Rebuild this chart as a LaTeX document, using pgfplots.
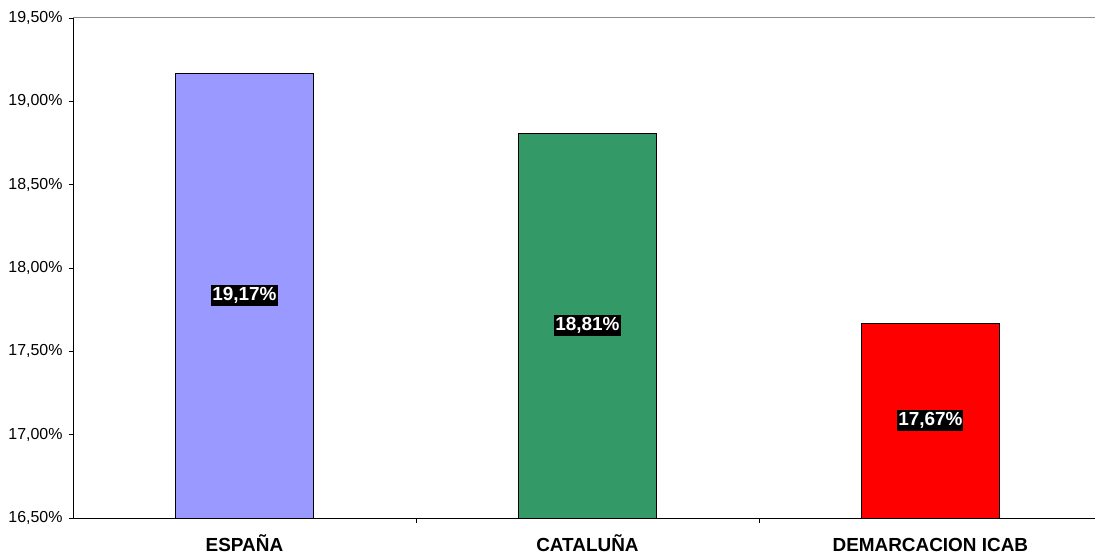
\documentclass[border=0pt]{standalone}
\usepackage{fontspec}
\setmainfont{Liberation Sans}
\usepackage{pgfplots}
\pgfplotsset{compat=1.18}
\definecolor{cEsp}{HTML}{9999FF}
\definecolor{cCat}{HTML}{339966}
\definecolor{cIcab}{HTML}{FF0000}
\definecolor{gridgray}{HTML}{8C8C8C}
\begin{document}
\begin{tikzpicture}
\useasboundingbox (0,0) rectangle (1095bp,557bp);
\begin{axis}[
  at={(73bp,39bp)}, anchor=south west,
  scale only axis, width=1022bp, height=500bp,
  xmin=-0.5, xmax=2.48, ymin=16.5, ymax=19.5,
  axis x line=bottom, axis y line=left,
  axis line style={-, black, line width=1pt},
  ybar, bar shift=0pt, bar width=0.402,
  xtick={0,1,2},
  xticklabels={ESPAÑA, CATALUÑA, DEMARCACION ICAB},
  major x tick style={draw=none},
  minor xtick={0.5,1.5},
  minor tick length=5bp,
  x tick style={black, line width=0.8pt},
  y tick style={black, line width=0.8pt},
  tick align=outside,
  major tick length=4bp,
  ytick={16.5,17,17.5,18,18.5,19,19.5},
  yticklabel={\pgfmathprintnumber[fixed,fixed zerofill,precision=2,use comma]{\tick}\%},
  /pgf/number format/assume math mode=true,
  yticklabel style={font=\fontsize{16}{18}\selectfont, xshift=-3bp},
  xticklabel style={font=\fontsize{19}{22}\selectfont\bfseries, anchor=base, yshift=-29.5bp},
  clip=false,
]
\draw[gridgray, line width=1pt] (rel axis cs:0,1) -- (rel axis cs:1,1);
\addplot[fill=cEsp, draw=black, line width=0.8pt] coordinates {(0,19.17)};
\addplot[fill=cCat, draw=black, line width=0.8pt] coordinates {(1,18.81)};
\addplot[fill=cIcab, draw=black, line width=0.8pt] coordinates {(2,17.67)};
\tikzset{lbl/.style={fill=black, text=white, inner xsep=1bp, inner ysep=2.5bp, font=\fontsize{19}{22}\selectfont\bfseries}}
\node[lbl] at (axis cs:0,17.835) {19,17\%};
\node[lbl] at (axis cs:1,17.655) {18,81\%};
\node[lbl] at (axis cs:2,17.085) {17,67\%};
\end{axis}
\end{tikzpicture}
\end{document}
